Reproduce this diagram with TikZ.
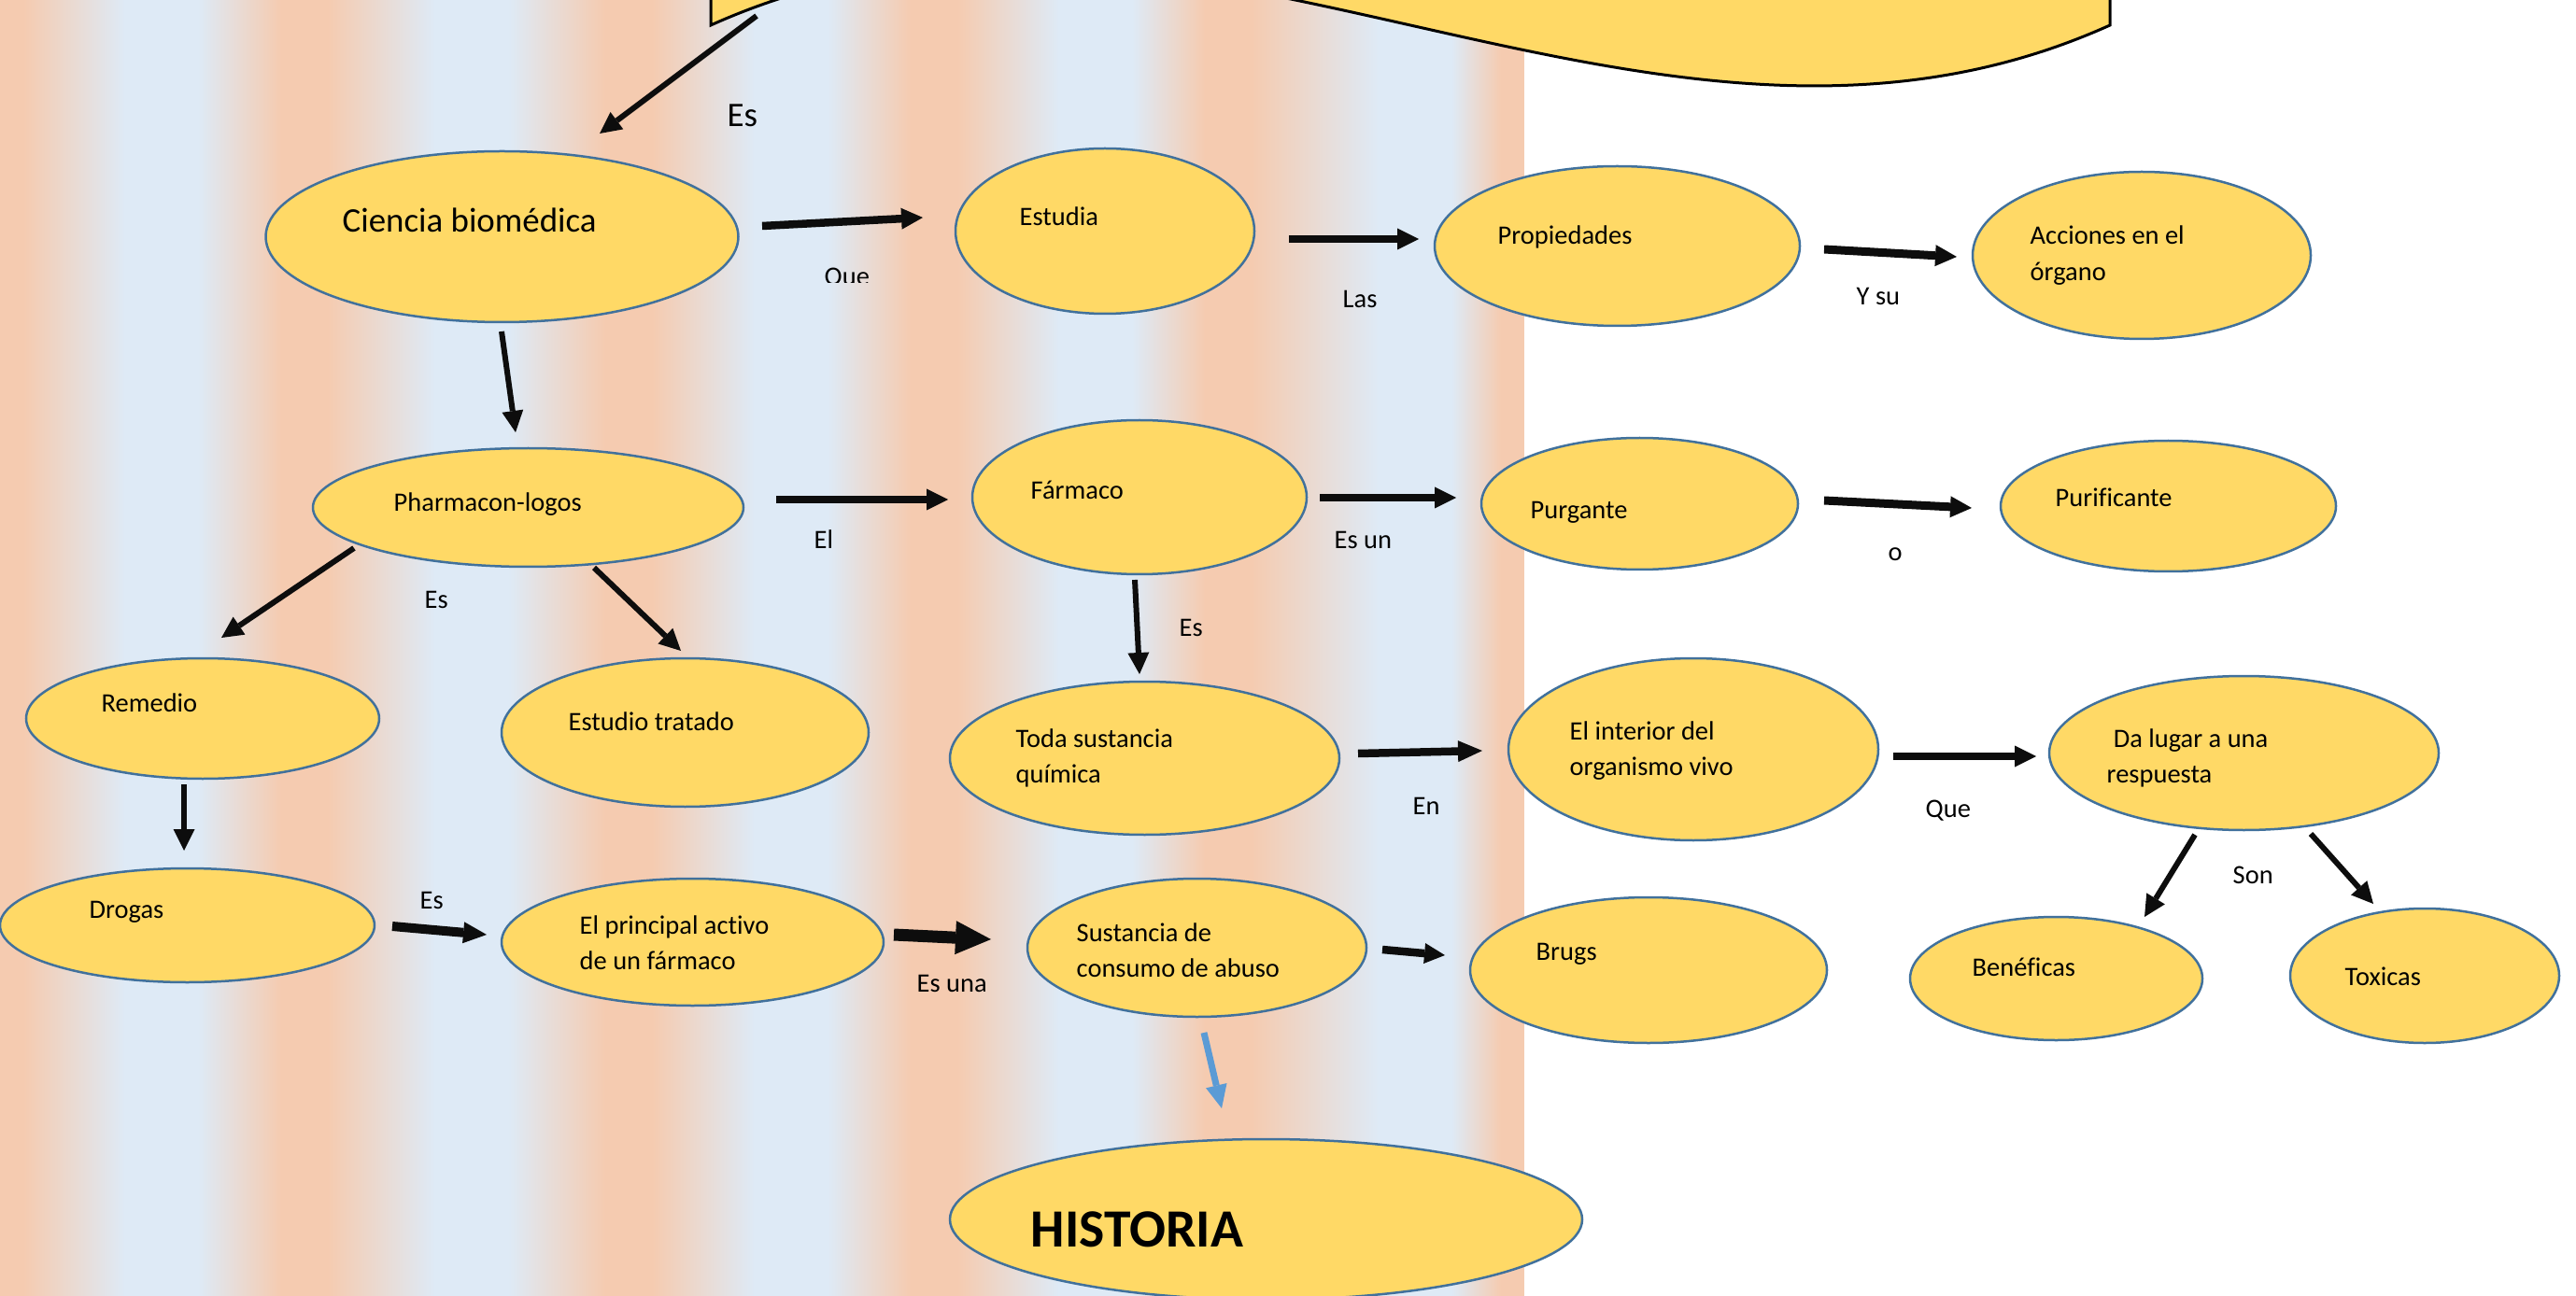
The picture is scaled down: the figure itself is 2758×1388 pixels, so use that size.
\documentclass[tikz,border=0pt]{standalone}
\usepackage{fontspec}
\setmainfont{Carlito}[Ligatures=NoCommon]
\usetikzlibrary{arrows.meta,shapes.geometric}
\definecolor{peach}{RGB}{245,203,176}
\definecolor{lblue}{RGB}{222,234,246}
\definecolor{gold}{RGB}{255,217,102}
\definecolor{edgeblue}{RGB}{65,113,156}
\definecolor{arrowblue}{RGB}{91,155,213}
\definecolor{ink}{RGB}{13,13,13}
\newcommand\twolines[2]{\begin{tabular}[t]{@{}l@{}}#1\\#2\end{tabular}}
\begin{document}
\begin{tikzpicture}[x=0.1mm,y=-0.1mm,
  ell/.style={ellipse, draw=edgeblue, line width=0.25mm, fill=gold, inner sep=0pt},
  txt/.style={anchor=base west, inner sep=0pt, text=black, font=\fontsize{8.1}{10.9}\selectfont},
  bigtxt/.style={anchor=base west, inner sep=0pt, text=black, font=\fontsize{10.5}{12.6}\selectfont},
  thinarrow/.style={draw=ink, line width=0.6mm, -{Triangle[width=2.3mm,length=2.3mm,line width=0pt]}},
  blockarrow/.style={draw=ink, line width=0.85mm, -{Triangle[width=2.3mm,length=2.3mm,line width=0pt]}},
]
\useasboundingbox (0,0) rectangle (2758,1388);
\begin{scope}
\clip (0,0) rectangle (2758,1388);
% background stripes: peach centres P, blue centres B
\fill[peach] (0,0) rectangle (1632,1388);
\foreach \pa/\b/\pb in {0/173/326, 326/505/673, 673/847/1000, 1000/1173/1315, 1315/1515/1632} {
  \shade[left color=peach, right color=lblue] ({\pa+25},0) rectangle ({\b-39},1388);
  \fill[lblue] ({\b-40},0) rectangle ({\b+40},1388);
  \shade[left color=lblue, right color=peach] ({\b+39},0) rectangle ({\pb-25},1388);
}
% banner
\filldraw[fill=gold, draw=black, line width=0.3mm] (761,-300) -- (761,27) .. controls (1260,-198) and (1760,252) .. (2259,27) -- (2259,-300) -- cycle;

% ellipses
\node[ell, minimum width=50.6mm, minimum height=18.3mm] (cien) at (537.5,253.5) {};
\node[ell, minimum width=32mm, minimum height=17.7mm] (estu) at (1183,247.5) {};
\node[ell, minimum width=39.1mm, minimum height=17.1mm] (prop) at (1731.5,263.5) {};
\node[ell, minimum width=36.2mm, minimum height=17.9mm] (acci) at (2293,273.5) {};
\node[ell, minimum width=46.1mm, minimum height=12.7mm] (phar) at (565.5,543.5) {};
\node[ell, minimum width=35.8mm, minimum height=16.5mm] (farm) at (1220,532.5) {};
\node[ell, minimum width=33.9mm, minimum height=14.1mm] (purg) at (1755.5,539.5) {};
\node[ell, minimum width=35.9mm, minimum height=14mm] (puri) at (2321.5,542) {};
\node[ell, minimum width=37.8mm, minimum height=12.9mm] (reme) at (217,769.5) {};
\node[ell, minimum width=39.3mm, minimum height=15.9mm] (estt) at (733.5,784.5) {};
\node[ell, minimum width=41.7mm, minimum height=16.4mm] (toda) at (1225.5,812) {};
\node[ell, minimum width=39.6mm, minimum height=19.5mm] (inte) at (1813,802.5) {};
\node[ell, minimum width=41.7mm, minimum height=16.5mm] (dalu) at (2402.5,806.5) {};
\node[ell, minimum width=40.1mm, minimum height=12.2mm] (drog) at (200.5,991) {};
\node[ell, minimum width=40.9mm, minimum height=13.6mm] (prin) at (741.5,1009) {};
\node[ell, minimum width=36.3mm, minimum height=14.8mm] (sust) at (1281.5,1015) {};
\node[ell, minimum width=38.2mm, minimum height=15.6mm] (brug) at (1765,1039) {};
\node[ell, minimum width=31.3mm, minimum height=13.2mm] (bene) at (2201.5,1048) {};
\node[ell, minimum width=28.8mm, minimum height=14.4mm] (toxi) at (2596,1045) {};
\node[ell, minimum width=67.7mm, minimum height=17.2mm] (hist) at (1355.5,1306) {};

% texts in ellipses
\node[bigtxt] (cient) at (366,249) {Ciencia biomédica};
\node[txt] (estut) at (1091,242) {Estudia};
\node[txt] (propt) at (1603,262) {Propiedades};
\node[txt] (accit) at (2173,262) {\twolines{Acciones en el}{órgano}};
\node[txt] (phart) at (421,548) {Pharmacon-logos};
\node[txt] (farmt) at (1103,535) {Fármaco};
\node[txt] (purgt) at (1638,555) {Purgante};
\node[txt] (purit) at (2200,543) {Purificante};
\node[txt] (remet) at (108,762) {Remedio};
\node[txt] (esttt) at (608,782) {Estudio tratado};
\node[txt] (todat) at (1087,800) {\twolines{Toda sustancia}{química}};
\node[txt] (intet) at (1680,792) {\twolines{El interior del}{organismo vivo}};
\node[txt] (dalut) at (2255,800) {\twolines{\hspace*{2pt}Da lugar a una}{respuesta}};
\node[txt] (brugt) at (1644,1028) {Brugs};
\node[txt] (benet) at (2111,1045) {Benéficas};
\node[txt] (toxit) at (2510,1055) {Toxicas};
\node[txt] (drogt) at (95,983) {Drogas};
\node[txt] (print) at (620,1000) {\twolines{El principal activo}{de un fármaco}};
\node[txt] (sustt) at (1152,1008) {\twolines{Sustancia de}{consumo de abuso}};
\node[anchor=base west, inner sep=0pt, font=\fontsize{16.4}{19}\selectfont\bfseries] (histt) at (1103,1335) {HISTORIA};

% connector labels
\node[bigtxt] (l1) at (778,136) {Es};
\begin{scope}
\clip (850,250) rectangle (1000,303);
\node[txt] (l2) at (882,306) {Que};
\end{scope}
\node[txt] (l3) at (1437,330) {Las};
\node[txt] (l4) at (1987,327) {Y su};
\node[txt] (l5) at (871,587) {El};
\node[txt] (l6) at (1428,587) {Es un};
\node[txt] (l7) at (2021,600) {o};
\node[txt] (l8) at (454,652) {Es};
\node[txt] (l9) at (1262,682) {Es};
\node[txt] (l10) at (1512,872) {En};
\node[txt] (l11) at (2061,875) {Que};
\node[txt] (l12) at (2390,946) {Son};
\node[txt] (l13) at (449,973) {Es};
\node[txt] (l14) at (981,1062) {Es una};

% connector end points
\coordinate (a1) at (810,17);   \coordinate (a2) at (642,143);
\coordinate (b1) at (816,242);  \coordinate (b2) at (988,233);
\coordinate (c1) at (1380,256); \coordinate (c2) at (1519,256);
\coordinate (d1) at (1953,267); \coordinate (d2) at (2095,275);
\coordinate (e1) at (537,355);  \coordinate (e2) at (552,463);
\coordinate (f1) at (831,535);  \coordinate (f2) at (1015,535);
\coordinate (g1) at (1413,533); \coordinate (g2) at (1559,533);
\coordinate (h1) at (1953,536); \coordinate (h2) at (2111,544);
\coordinate (i1) at (379,587);  \coordinate (i2) at (237,683);
\coordinate (j1) at (636,608);  \coordinate (j2) at (729,697);
\coordinate (k1) at (1215,621); \coordinate (k2) at (1220,722);
\coordinate (l1c) at (1454,807); \coordinate (l2c) at (1587,804);
\coordinate (m1) at (2027,810); \coordinate (m2) at (2180,810);
\coordinate (n1) at (2350,894); \coordinate (n2) at (2296,982);
\coordinate (o1) at (2474,893); \coordinate (o2) at (2541,968);
\coordinate (p1) at (197,840);  \coordinate (p2) at (197,911);
\coordinate (q1) at (420,992);  \coordinate (q2) at (521,1001);
\coordinate (r1) at (957,1001); \coordinate (r2) at (1061,1006);
\coordinate (s1) at (1480,1017); \coordinate (s2) at (1547,1023);
\coordinate (t1) at (1289,1106); \coordinate (t2) at (1308,1187);

% connectors
\draw[thinarrow] (a1) -- (a2);
\draw[blockarrow] (b1) -- (b2);
\draw[blockarrow] (c1) -- (c2);
\draw[blockarrow, line width=0.9mm] (d1) -- (d2);
\draw[thinarrow] (e1) -- (e2);
\draw[blockarrow] (f1) -- (f2);
\draw[blockarrow] (g1) -- (g2);
\draw[blockarrow, line width=0.9mm] (h1) -- (h2);
\draw[thinarrow] (i1) -- (i2);
\draw[thinarrow] (j1) -- (j2);
\draw[thinarrow] (k1) -- (k2);
\draw[blockarrow, -{Triangle[width=2.3mm,length=2.6mm,line width=0pt]}] (l1c) -- (l2c);
\draw[blockarrow] (m1) -- (m2);
\draw[thinarrow] (n1) -- (n2);
\draw[thinarrow] (o1) -- (o2);
\draw[thinarrow] (p1) -- (p2);
\draw[blockarrow, line width=1mm, -{Triangle[width=2.3mm,length=2.5mm,line width=0pt]}] (q1) -- (q2);
\draw[blockarrow, line width=1.3mm, -{Triangle[width=3.6mm,length=3.8mm,line width=0pt]}] (r1) -- (r2);
\draw[blockarrow, -{Triangle[width=2.2mm,length=2.2mm,line width=0pt]}] (s1) -- (s2);
\draw[draw=arrowblue, line width=0.7mm, -{Triangle[width=2.3mm,length=2.5mm,line width=0pt]}] (t1) -- (t2);
\end{scope}
\end{tikzpicture}
\end{document}
